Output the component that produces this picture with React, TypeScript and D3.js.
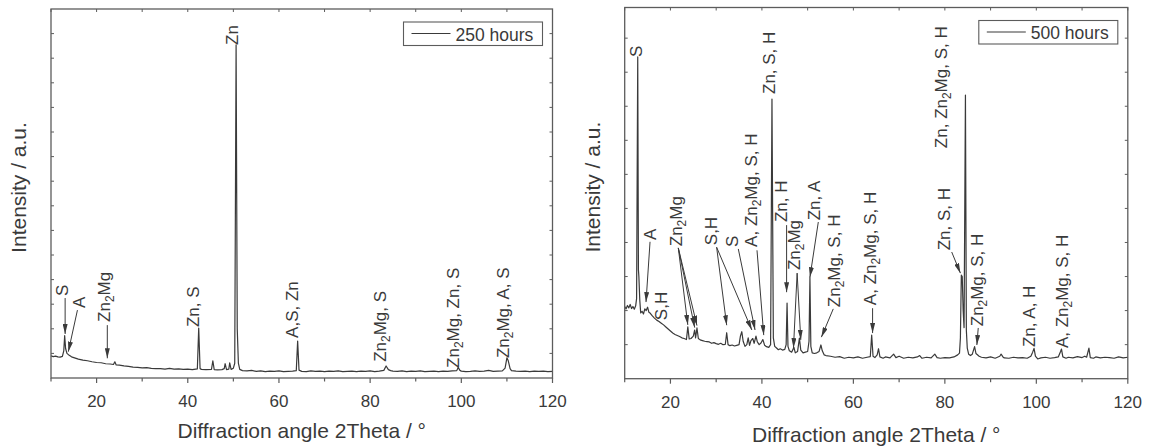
import * as d3 from "d3";

// 2Theta positions (deg) and intensities
const angles250 = [
  10, 10.5, 11, 11.5, 12, 12.5, 12.8, 13.0, 13.2, 13.5,
  14, 14.5, 15, 15.5, 16, 17, 18, 19, 20, 21,
  22, 23, 23.7, 24.0, 24.3, 25, 26, 27, 28, 29,
  30, 31, 32, 33, 34, 35, 36, 37, 38, 39,
  40, 41, 42.1, 42.4, 42.7, 43, 44, 45.2, 45.5, 45.8,
  46.5, 47.5, 48.0, 48.2, 48.5, 49.0, 49.2, 49.5, 50.0, 50.3,
  50.6, 50.85, 51.1, 51.4, 52, 53, 54, 55, 56, 57,
  58, 59, 60, 61, 62, 63, 63.8, 64.1, 64.4, 65,
  66, 67, 68, 69, 70, 71, 72, 73, 74, 75,
  76, 77, 78, 79, 80, 81, 82, 83, 83.5, 84,
  84.5, 85, 86, 87, 88, 89, 90, 91, 92, 93,
  94, 95, 96, 97, 98, 99.0, 99.3, 99.7, 100, 101,
  102, 103, 104, 105, 106, 107, 108, 109, 109.6, 110.0,
  110.3, 110.7, 111, 112, 113, 114, 115, 116, 117, 118,
  119, 120,
];
const counts250 = [
  90, 87, 89, 86, 85, 88, 110, 172, 120, 100,
  92, 86, 83, 80, 77, 73, 70, 66, 63, 62,
  58, 57, 55, 66, 53, 52, 49, 47, 44, 43,
  41, 42, 39, 38, 38, 36, 39, 36, 37, 35,
  36, 34, 37, 203, 38, 35, 34, 35, 70, 34,
  33, 34, 38, 58, 34, 36, 62, 35, 40, 60,
  1354, 200, 60, 35, 30, 29, 31, 27, 29, 26,
  28, 27, 29, 26, 27, 28, 30, 150, 32, 27,
  26, 29, 27, 28, 26, 28, 27, 29, 26, 27,
  28, 26, 28, 27, 29, 26, 28, 31, 49, 34,
  30, 28, 27, 29, 26, 28, 27, 29, 26, 27,
  28, 26, 28, 27, 29, 30, 43, 31, 28, 26,
  27, 29, 27, 28, 31, 27, 28, 29, 40, 82,
  70, 38, 30, 28, 27, 28, 26, 28, 27, 28,
  26, 27,
];

// 500 h pattern
const angles500 = [
  10, 10.3, 10.6, 10.9, 11.2, 11.5, 11.8, 12.1, 12.4, 12.6,
  12.85, 13.0, 13.1, 13.3, 13.5, 13.8, 14.1, 14.4, 14.7, 15.0,
  15.3, 15.6, 16, 16.5, 17, 17.5, 18, 18.5, 19, 19.5,
  20, 20.5, 21, 21.5, 22, 22.5, 23, 23.5, 23.8, 24.1,
  24.5, 25.0, 25.3, 25.5, 25.8, 26.1, 26.5, 27, 27.5, 28,
  28.5, 29, 29.5, 30, 30.5, 31, 31.5, 32, 32.3, 32.6,
  33, 33.5, 34, 34.5, 35, 35.3, 35.6, 35.9, 36.3, 36.7,
  37.0, 37.3, 37.6, 38.0, 38.3, 38.7, 39.0, 39.4, 39.8, 40.2,
  40.6, 41, 41.5, 41.9, 42.2, 42.5, 42.8, 43.2, 43.6, 44,
  44.5, 45, 45.3, 45.5, 45.7, 46.0, 46.5, 47.0, 47.3, 47.8,
  48.2, 48.5, 49.0, 49.5, 50.0, 50.3, 50.5, 50.7, 51, 51.5,
  52, 52.5, 52.9, 53.2, 53.6, 54, 55, 56, 57, 58,
  59, 60, 61, 62, 63, 63.7, 64.0, 64.3, 64.7, 65.2,
  65.5, 65.8, 66.5, 67, 68, 68.8, 69.3, 70, 71, 72,
  73, 74, 74.5, 75, 76, 77, 77.8, 78.3, 79, 80,
  81, 82, 82.8, 83.2, 83.4, 83.6, 83.8, 84.0, 84.2, 84.5,
  84.7, 84.9, 85.2, 85.6, 86.0, 86.5, 86.8, 87.5, 88, 89,
  90, 91, 92, 92.3, 92.7, 93, 94, 95, 96, 97,
  98, 98.8, 99.2, 99.5, 99.8, 100.3, 101, 102, 103, 104,
  104.8, 105.3, 105.5, 105.8, 106.5, 107, 108, 109, 110, 110.6,
  111, 111.5, 111.8, 112.5, 113, 114, 115, 116, 117, 118,
  119, 120,
];
const counts500 = [
  212, 205, 215, 208, 218, 206, 212, 204, 214, 235,
  945, 320, 300, 230, 193, 198, 190, 205, 200, 210,
  195, 192, 185, 178, 172, 168, 163, 158, 152, 146,
  140, 134, 130, 127, 124, 120, 118, 115, 152, 117,
  118, 125, 143, 120, 149, 118, 114, 112, 110, 109,
  108, 104, 106, 103, 101, 104, 100, 101, 135, 100,
  97, 99, 96, 98, 100, 125, 138, 110, 95, 100,
  120, 98, 112, 118, 104, 125, 108, 100, 105, 115,
  98, 94, 92, 100, 821, 120, 95, 90, 85, 88,
  84, 86, 100, 222, 95, 82, 78, 92, 76, 80,
  119, 84, 76, 78, 80, 110, 298, 95, 76, 74,
  76, 80, 99, 82, 70, 68, 66, 63, 65, 60,
  63, 61, 64, 60, 63, 65, 128, 66, 62, 70,
  88, 64, 60, 64, 61, 72, 62, 66, 60, 63,
  61, 64, 68, 60, 63, 61, 72, 62, 60, 62,
  61, 64, 70, 75, 120, 304, 300, 200, 150, 833,
  142, 90, 72, 68, 72, 94, 74, 66, 63, 61,
  64, 60, 66, 72, 64, 61, 60, 63, 61, 62,
  60, 66, 78, 89, 66, 58, 61, 63, 60, 62,
  64, 80, 87, 64, 60, 63, 61, 65, 62, 66,
  63, 90, 62, 60, 64, 61, 63, 62, 60, 64,
  61, 63,
];

// phase labels: angle/level of where the rotated text starts ("_2" = subscript)
const labels250 = [
  { text: "S", angle: 13.8, level: 333 },
  { text: "A", angle: 17.4, level: 285 },
  { text: "Zn_2Mg", angle: 23.05, level: 228 },
  { text: "Zn, S", angle: 42.45, level: 207 },
  { text: "Zn", angle: 51.1, level: 1354 },
  { text: "A,S, Zn", angle: 64.2, level: 163 },
  { text: "Zn_2Mg, S", angle: 83.5, level: 66 },
  { text: "Zn_2Mg, Zn, S", angle: 99.5, level: 41 },
  { text: "Zn_2Mg, A, S", angle: 110.5, level: 81 },
];
const arrows250 = [
  { from: [13.1, 325], to: [13.1, 179] },
  { from: [15.8, 276], to: [13.8, 107] },
  { from: [22.35, 215], to: [22.35, 80] },
];

const labels500 = [
  { text: "S", angle: 13.72, level: 945 },
  { text: "A", angle: 16.85, level: 407 },
  { text: "S,H", angle: 19.2, level: 172 },
  { text: "Zn_2Mg", angle: 22.5, level: 389 },
  { text: "S,H", angle: 30.2, level: 392 },
  { text: "S", angle: 34.8, level: 387 },
  { text: "A, Zn_2Mg, S, H", angle: 38.9, level: 387 },
  { text: "Zn, S, H", angle: 42.86, level: 836 },
  { text: "Zn, H", angle: 45.5, level: 460 },
  { text: "Zn_2Mg", angle: 48.3, level: 319 },
  { text: "Zn, A", angle: 52.7, level: 465 },
  { text: "Zn_2Mg, S, H", angle: 57.05, level: 210 },
  { text: "A, Zn_2Mg, S, H", angle: 64.9, level: 216 },
  { text: "Zn, S, H", angle: 81.1, level: 377 },
  { text: "Zn, Zn_2Mg, S, H", angle: 80.5, level: 677 },
  { text: "Zn_2Mg, S, H", angle: 88.3, level: 154 },
  { text: "Zn, A, H", angle: 99.7, level: 93 },
  { text: "A, Zn_2Mg, S, H", angle: 106.9, level: 90 },
];
const arrows500 = [
  { from: [15.54, 402], to: [14.66, 225] },
  { from: [21.72, 384], to: [23.8, 158] },
  { from: [21.72, 384], to: [25.3, 150] },
  { from: [21.72, 384], to: [25.8, 156] },
  { from: [30.1, 386], to: [32.3, 157] },
  { from: [30.1, 386], to: [37.8, 143] },
  { from: [34.84, 381], to: [38.5, 143] },
  { from: [38.93, 377], to: [40.4, 128] },
  { from: [45.4, 451], to: [45.4, 254] },
  { from: [47.7, 310], to: [46.9, 90] },
  { from: [47.7, 310], to: [48.5, 114] },
  { from: [52.33, 460], to: [50.5, 298] },
  { from: [55.6, 205], to: [53.0, 122] },
  { from: [64.2, 207], to: [64.2, 134] },
  { from: [81.5, 372], to: [83.4, 310] },
  { from: [87.3, 149], to: [87.0, 99] },
];

const FONT = "'Liberation Sans', Arial, Helvetica, sans-serif";
const INK = "#3a3a3a";
const FRAME = "#5c5c5c";

function Rich({ text }: { text: string }) {
  const parts = text.split(/_(\d)/);
  return (
    <>
      {parts.map((p, i) =>
        i % 2 === 1 ? (
          <tspan key={i} fontSize="0.7em" dy={4}>
            {p}
          </tspan>
        ) : (
          <tspan key={i} dy={i ? -4 : 0}>
            {p}
          </tspan>
        )
      )}
    </>
  );
}

type Box = { l: number; t: number; r: number; b: number };

function Panel({ angles, counts, yMax, box, labels, arrows, legend, titleY }: any) {
  const b: Box = box;
  const x = d3.scaleLinear().domain([10, 120]).range([b.l, b.r]);
  const y = d3.scaleLinear().domain([0, yMax]).range([b.b, b.t]);
  const trace = d3
    .line<number>()
    .x((_, i) => x(angles[i]))
    .y((d) => y(d))(counts);
  const xTicks = d3.range(10, 121, 10);
  const yTicks = d3.range(100, yMax, 100);
  const legW = 139;
  const legL = b.r - 10 - legW;
  const legT = b.t + 13;
  const cx = (b.l + b.r) / 2;
  const cy = (b.t + b.b) / 2 - 6;

  return (
    <g fontFamily={FONT}>
      <path d={trace ?? ""} fill="none" stroke={INK} strokeWidth={1.2} strokeLinejoin="round" />

      {arrows.map((a: any, i: number) => (
        <line
          key={"a" + i}
          x1={x(a.from[0])}
          y1={y(a.from[1])}
          x2={x(a.to[0])}
          y2={y(a.to[1])}
          stroke={INK}
          strokeWidth={1}
          markerEnd="url(#arrowHead)"
        />
      ))}

      {labels.map((l: any, i: number) => (
        <text
          key={"l" + i}
          transform={`translate(${x(l.angle)},${y(l.level)}) rotate(-90)`}
          fontSize={17}
          fill={INK}
        >
          <Rich text={l.text} />
        </text>
      ))}

      {/* frame */}
      <rect x={b.l} y={b.t} width={b.r - b.l} height={b.b - b.t} fill="none" stroke={FRAME} strokeWidth={1.3} />

      {xTicks.map((v) => (
        <g key={"x" + v}>
          <line x1={x(v)} x2={x(v)} y1={b.b} y2={b.b + (v % 20 === 0 ? 5 : 3.5)} stroke={FRAME} strokeWidth={1.2} />
          <line x1={x(v)} x2={x(v)} y1={b.t} y2={b.t + 3} stroke={FRAME} strokeWidth={1} />
          {v % 20 === 0 && (
            <text x={x(v)} y={b.b + 29} textAnchor="middle" fontSize={17} fill={INK}>
              {v}
            </text>
          )}
        </g>
      ))}
      {yTicks.map((v) => (
        <g key={"y" + v}>
          <line x1={b.l} x2={b.l + 3} y1={y(v)} y2={y(v)} stroke={FRAME} strokeWidth={1} />
          <line x1={b.r} x2={b.r - 3} y1={y(v)} y2={y(v)} stroke={FRAME} strokeWidth={1} />
        </g>
      ))}

      <text x={cx} y={titleY} textAnchor="middle" fontSize={21} fill={INK}>
        Diffraction angle 2Theta / °
      </text>
      <text transform={`translate(${b.l - 25},${cy}) rotate(-90)`} textAnchor="middle" fontSize={21} fill={INK}>
        Intensity / a.u.
      </text>

      <rect x={legL} y={legT} width={legW} height={23.5} fill="#fff" stroke={FRAME} strokeWidth={1.1} />
      <line x1={legL + 8} x2={legL + 47} y1={legT + 11.5} y2={legT + 11.5} stroke={INK} strokeWidth={1.2} />
      <text x={legL + 52} y={legT + 18.5} fontSize={17.5} fill={INK}>
        {legend}
      </text>
    </g>
  );
}

export default function App() {
  return (
    <svg
      width={1150}
      height={446}
      style={{ position: "absolute", left: 0, top: 0, background: "#fff" }}
    >
      <defs>
        <marker
          id="arrowHead"
          markerUnits="userSpaceOnUse"
          markerWidth={10}
          markerHeight={5}
          refX={10}
          refY={2.5}
          orient="auto"
        >
          <path d="M0,0 L10,2.5 L0,5 Z" fill={INK} />
        </marker>
      </defs>
      <Panel
        angles={angles250}
        counts={counts250}
        yMax={1500}
        box={{ l: 51, t: 9, r: 552.5, b: 378 }}
        labels={labels250}
        arrows={arrows250}
        legend="250 hours"
        titleY={438}
      />
      <Panel
        angles={angles500}
        counts={counts500}
        yMax={1090}
        box={{ l: 624.7, t: 7.5, r: 1127.8, b: 378.7 }}
        labels={labels500}
        arrows={arrows500}
        legend="500 hours"
        titleY={441.5}
      />
    </svg>
  );
}
